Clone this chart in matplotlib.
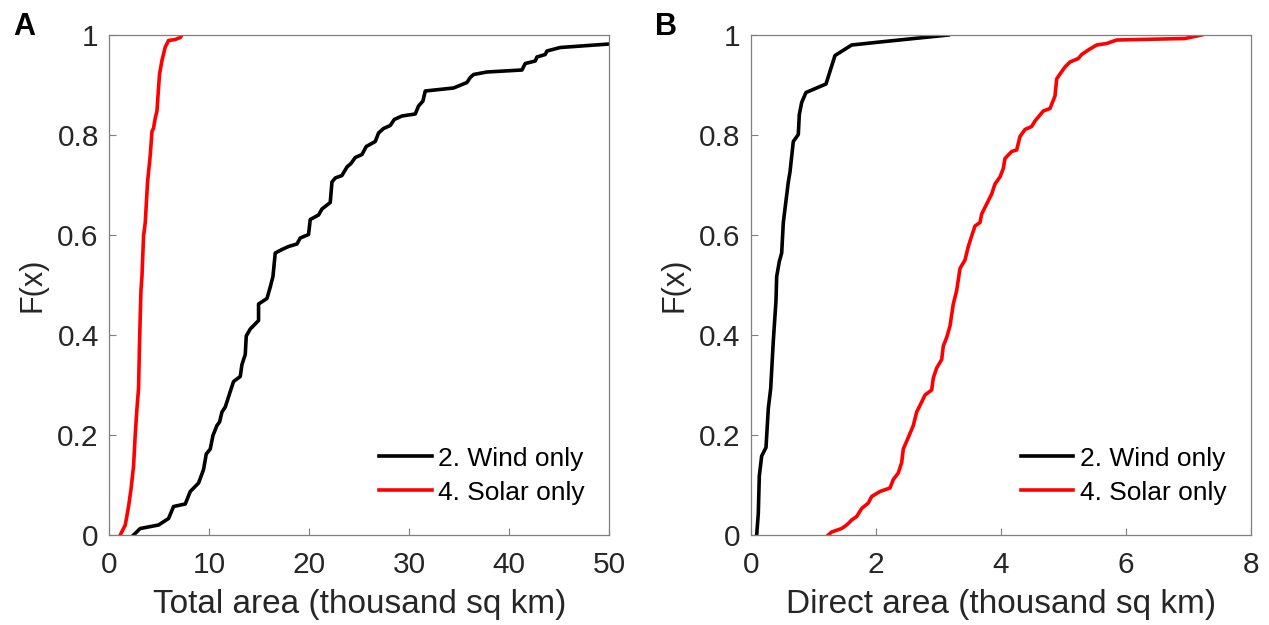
import matplotlib
matplotlib.use("Agg")
import matplotlib.pyplot as plt

plt.rcParams['font.family'] = ['Liberation Sans', 'DejaVu Sans']

# CDF curves, total area (thousand sq km)
wind_total_x = [2.43, 3.1, 4.93, 5.93, 6.43, 7.6, 8.1, 8.93, 9.43, 9.7, 10.1, 10.37, 10.77, 11.03,
                11.27, 11.6, 12.1, 12.43, 13.1, 13.27, 13.6, 13.7, 14.1, 14.93, 14.93, 15.77, 16.1,
                16.37, 16.6, 17.27, 17.93, 18.77, 19.1, 19.93, 20.1, 20.93, 21.27, 22.1, 22.27,
                22.6, 23.27, 23.77, 24.17, 24.6, 25.27, 25.7, 26.6, 26.93, 27.43, 28.1, 28.5,
                29.27, 30.6, 30.93, 31.37, 31.6, 34.43, 35.77, 36.1, 36.43, 37.77, 41.27, 41.6,
                42.6, 42.77, 43.6, 43.77, 45.1, 50.0]
wind_total_F = [0.0, 0.013, 0.020, 0.033, 0.057, 0.062, 0.087, 0.104, 0.131, 0.162, 0.172, 0.199,
                0.219, 0.226, 0.246, 0.256, 0.287, 0.307, 0.317, 0.341, 0.361, 0.398, 0.412,
                0.429, 0.462, 0.473, 0.496, 0.517, 0.564, 0.571, 0.577, 0.582, 0.594, 0.601,
                0.631, 0.640, 0.652, 0.665, 0.706, 0.714, 0.719, 0.736, 0.743, 0.755, 0.761,
                0.777, 0.787, 0.804, 0.813, 0.819, 0.831, 0.838, 0.842, 0.858, 0.868, 0.888,
                0.894, 0.905, 0.915, 0.921, 0.926, 0.930, 0.943, 0.948, 0.956, 0.961, 0.968,
                0.975, 0.982]
solar_total_x = [1.1, 1.6, 1.93, 2.17, 2.43, 2.6, 2.77, 2.93, 3.03, 3.17, 3.27, 3.43, 3.6, 3.83,
                 4.03, 4.1, 4.27, 4.43, 4.6, 4.77, 4.93, 5.03, 5.27, 5.6, 5.93, 6.6, 7.1, 7.27]
solar_total_F = [0.0, 0.020, 0.057, 0.091, 0.138, 0.202, 0.253, 0.293, 0.388, 0.489, 0.517,
                 0.598, 0.625, 0.706, 0.746, 0.760, 0.807, 0.814, 0.834, 0.848, 0.895, 0.922,
                 0.949, 0.976, 0.989, 0.991, 0.995, 1.0]

# CDF curves, direct area (thousand sq km)
wind_direct_x = [0.091, 0.117, 0.133, 0.171, 0.24, 0.277, 0.315, 0.357, 0.4, 0.411, 0.453, 0.491,
                 0.517, 0.597, 0.624, 0.677, 0.757, 0.773, 0.811, 0.88, 1.2, 1.344, 1.611, 2.064,
                 3.157]
wind_direct_F = [0.0, 0.043, 0.118, 0.158, 0.175, 0.253, 0.293, 0.388, 0.469, 0.517, 0.547, 0.564,
                 0.625, 0.706, 0.726, 0.787, 0.801, 0.841, 0.865, 0.885, 0.902, 0.959, 0.980,
                 0.986, 1.0]
solar_direct_x = [1.237, 1.291, 1.451, 1.531, 1.611, 1.691, 1.771, 1.877, 1.931, 2.064, 2.224,
                  2.277, 2.357, 2.411, 2.437, 2.517, 2.597, 2.651, 2.731, 2.784, 2.891, 2.917,
                  2.971, 3.051, 3.077, 3.131, 3.184, 3.237, 3.291, 3.344, 3.424, 3.477, 3.531,
                  3.584, 3.664, 3.691, 3.771, 3.851, 3.904, 3.984, 4.037, 4.064, 4.171, 4.251,
                  4.304, 4.384, 4.491, 4.544, 4.624, 4.677, 4.784, 4.864, 4.891, 4.944, 5.024,
                  5.104, 5.237, 5.291, 5.397, 5.531, 5.691, 5.851, 6.944, 7.211]
solar_direct_F = [0.0, 0.006, 0.013, 0.020, 0.030, 0.037, 0.053, 0.064, 0.077, 0.087, 0.094,
                  0.111, 0.124, 0.145, 0.172, 0.195, 0.219, 0.246, 0.266, 0.280, 0.290, 0.314,
                  0.334, 0.351, 0.378, 0.395, 0.418, 0.462, 0.489, 0.533, 0.550, 0.577, 0.598,
                  0.618, 0.625, 0.642, 0.662, 0.682, 0.702, 0.716, 0.733, 0.753, 0.767, 0.770,
                  0.797, 0.811, 0.817, 0.828, 0.840, 0.848, 0.853, 0.878, 0.912, 0.922, 0.936,
                  0.946, 0.953, 0.961, 0.970, 0.980, 0.983, 0.990, 0.993, 1.0]

labels = ['2. Wind only', '4. Solar only']
panels = [
    ('A', 'Total area (thousand sq km)', 50, [0, 10, 20, 30, 40, 50],
     (wind_total_x, wind_total_F), (solar_total_x, solar_total_F)),
    ('B', 'Direct area (thousand sq km)', 8, [0, 2, 4, 6, 8],
     (wind_direct_x, wind_direct_F), (solar_direct_x, solar_direct_F)),
]

fig = plt.figure(figsize=(12.69, 6.25), dpi=100)
lefts = [0.0861, 0.5918]
grey = '#7f7f7f'
txt = '#262626'

for left, (tag, xlabel, xmax, xticks, wind, solar) in zip(lefts, panels):
    ax = fig.add_axes([left, 0.144, 0.394, 0.8])
    ax.plot(wind[0], wind[1], color='black', lw=2.6, label=labels[0])
    ax.plot(solar[0], solar[1], color='red', lw=2.6, label=labels[1])
    ax.set_xlim(0, xmax)
    ax.set_ylim(0, 1)
    ax.set_xticks(xticks)
    ax.set_yticks([0, 0.2, 0.4, 0.6, 0.8, 1])
    ax.set_yticklabels(['0', '0.2', '0.4', '0.6', '0.8', '1'])
    ax.tick_params(direction='in', length=5, width=0.8, color=grey, labelsize=21.5,
                   labelcolor=txt)
    ax.tick_params(axis='x', pad=11.5)
    ax.tick_params(axis='y', pad=7.5)
    for s in ax.spines.values():
        s.set_color(grey)
        s.set_linewidth(0.9)
    ax.set_xlabel(xlabel, fontsize=24, color=txt, labelpad=7)
    ax.set_ylabel('F(x)', fontsize=22, color=txt, labelpad=7)
    ax.legend(loc='lower right', bbox_to_anchor=(1.012, 0), frameon=False, fontsize=19,
              handlelength=2.0, handletextpad=0.25, borderaxespad=0.75, labelspacing=0.38)
    fig.text(left - 0.0668, 0.957, tag, fontsize=22, fontweight='bold', va='center', ha='center')

fig.savefig('out.png', dpi=100)
